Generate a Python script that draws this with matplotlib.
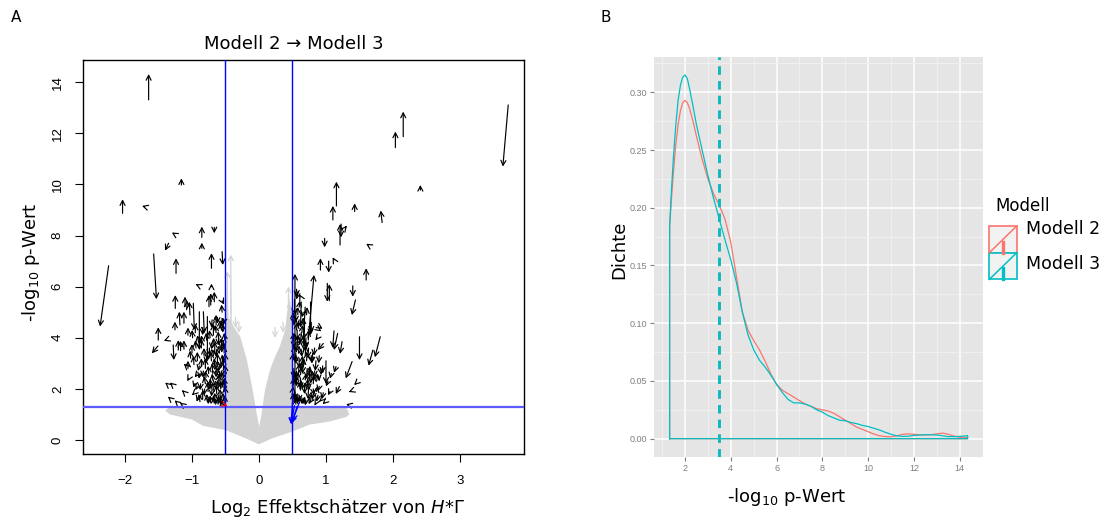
import numpy as np
import matplotlib
matplotlib.use("Agg")
import matplotlib.pyplot as plt
from matplotlib.patches import Rectangle

# ---------------- Panel A data: Modell 2 -> Modell 3 (x2, y2, x3, y3) ----------------
arrows_left = [
    (-1.647, 13.31, -1.647, 14.32), (-2.244, 6.82, -2.372, 4.44), (-2.036, 8.87, -2.036, 9.42),
    (-1.707, 9.13, -1.745, 9.16), (-1.158, 9.98, -1.158, 10.24), (-1.572, 7.28, -1.530, 5.51),
    (-1.503, 3.91, -1.503, 4.41), (-1.508, 3.68, -1.599, 3.39), (-1.349, 7.70, -1.402, 7.41),
    (-1.275, 8.08, -1.300, 8.12), (-1.238, 6.52, -1.238, 7.11), (-0.853, 7.93, -0.853, 8.35),
    (-0.667, 8.32, -0.667, 8.09), (-0.853, 7.50, -0.853, 7.72), (-0.709, 6.72, -0.709, 7.31),
    (-0.550, 7.37, -0.540, 6.85), (-0.922, 6.07, -0.945, 6.10), (-0.709, 6.00, -0.709, 6.12),
    (-0.667, 5.41, -0.667, 5.80), (-0.55, 5.45, -0.52, 5.30),
    (-1.249, 5.15, -1.249, 5.67), (-1.104, 5.22, -1.104, 5.61), (-1.08, 5.10, -1.07, 5.45),
    (-1.03, 4.89, -1.04, 5.41), (-1.18, 4.50, -1.19, 5.02), (-1.12, 4.57, -1.12, 5.02),
    (-0.98, 5.35, -0.965, 4.31), (-0.83, 5.02, -0.816, 4.17), (-0.746, 5.22, -0.746, 5.67),
    (-0.72, 5.28, -0.72, 5.74), (-0.89, 5.02, -0.89, 3.52), (-0.77, 4.83, -0.77, 3.13),
    (-1.254, 4.31, -1.254, 4.63), (-1.28, 3.72, -1.27, 3.13), (-1.204, 3.52, -1.204, 3.91),
    (-1.17, 3.50, -1.17, 3.88), (-1.12, 3.55, -1.12, 3.90), (-1.39, 3.91, -1.42, 3.88),
    (-1.06, 4.10, -1.06, 4.40), (-0.95, 4.20, -0.95, 4.55), (-0.90, 3.80, -0.92, 4.10),
    (-0.86, 3.60, -0.86, 3.95), (-0.84, 4.40, -0.84, 4.10), (-1.104, 2.94, -1.12, 2.98),
    (-0.93, 2.55, -0.96, 2.45), (-0.88, 2.60, -0.90, 2.40), (-1.378, 2.20, -1.40, 2.25),
    (-1.30, 2.18, -1.33, 2.25), (-1.13, 1.90, -1.15, 1.95), (-1.33, 1.63, -1.36, 1.70),
    (-1.23, 1.48, -1.26, 1.55), (-1.15, 1.40, -1.18, 1.46), (-1.06, 2.80, -1.06, 3.10),
    (-1.00, 3.40, -1.00, 3.75), (-0.97, 2.95, -0.98, 3.30), (-0.92, 3.10, -0.92, 3.45),
    (-0.80, 2.80, -0.80, 3.20), (-0.80, 2.20, -0.82, 2.50), (-0.76, 1.90, -0.76, 2.30),
    (-0.84, 1.60, -0.84, 1.95), (-0.88, 1.50, -0.90, 1.80), (-0.92, 2.10, -0.95, 1.95),
    (-0.98, 1.80, -1.00, 1.75), (-0.72, 1.45, -0.73, 1.75), (-0.69, 2.60, -0.70, 3.00),
    (-0.66, 3.40, -0.66, 3.85), (-0.68, 4.10, -0.68, 4.55), (-0.64, 4.50, -0.64, 4.90),
    (-0.62, 3.00, -0.62, 3.40), (-0.60, 2.20, -0.60, 2.60), (-0.58, 1.60, -0.58, 2.00),
    (-0.56, 3.60, -0.56, 4.00), (-0.54, 4.60, -0.54, 4.20), (-0.53, 2.80, -0.53, 3.20),
    (-0.52, 1.90, -0.52, 2.30), (-0.51, 1.40, -0.51, 1.75), (-0.55, 2.40, -0.55, 2.10),
    (-0.57, 3.10, -0.57, 2.80), (-0.60, 3.80, -0.61, 4.25), (-0.63, 1.80, -0.64, 2.15),
    (-0.65, 2.30, -0.66, 2.10), (-0.70, 2.00, -0.71, 1.70), (-0.74, 3.60, -0.74, 3.30),
    (-0.78, 3.90, -0.79, 4.20), (-0.61, 1.40, -0.62, 1.65), (-0.66, 1.50, -0.66, 1.85),
    (-0.55, 1.35, -0.56, 1.55), (-0.59, 2.90, -0.60, 2.70), (-0.53, 3.90, -0.53, 3.60),
    (-0.70, 4.70, -0.71, 4.40), (-0.58, 4.40, -0.58, 4.70), (-0.62, 4.80, -0.62, 4.55),
    (-0.82, 3.30, -0.82, 3.60), (-0.86, 2.90, -0.86, 3.20), (-0.50, 2.60, -0.51, 2.95),
    (-0.52, 3.40, -0.52, 3.70), (-0.75, 1.60, -0.76, 1.40), (-0.68, 3.30, -0.69, 3.55),
    (-0.64, 2.70, -0.64, 2.45),
    (-0.51, 2.10, -0.52, 2.45), (-0.52, 2.70, -0.53, 2.40), (-0.53, 1.55, -0.54, 1.85),
    (-0.54, 3.05, -0.55, 3.35), (-0.55, 3.80, -0.56, 3.50), (-0.56, 4.30, -0.57, 4.60),
    (-0.57, 1.45, -0.58, 1.70), (-0.58, 2.35, -0.59, 2.65), (-0.59, 3.40, -0.60, 3.70),
    (-0.60, 4.00, -0.61, 3.70), (-0.61, 2.00, -0.62, 2.30), (-0.62, 2.55, -0.63, 2.85),
    (-0.63, 3.55, -0.64, 3.25), (-0.64, 4.20, -0.65, 4.50), (-0.65, 1.60, -0.66, 1.40),
    (-0.66, 2.90, -0.67, 3.20), (-0.67, 3.70, -0.68, 4.00), (-0.68, 1.95, -0.69, 2.25),
    (-0.69, 2.35, -0.70, 2.60), (-0.71, 3.10, -0.72, 3.45), (-0.72, 2.10, -0.73, 2.40),
    (-0.73, 4.00, -0.74, 4.30), (-0.75, 2.60, -0.76, 2.90), (-0.77, 1.50, -0.78, 1.80),
    (-0.78, 3.30, -0.79, 3.00), (-0.81, 2.00, -0.82, 1.75), (-0.83, 2.70, -0.84, 2.45),
    (-0.85, 3.80, -0.86, 4.10), (-0.87, 2.20, -0.88, 1.95), (-0.89, 2.90, -0.91, 2.70),
    (-0.91, 1.65, -0.93, 1.50), (-0.94, 3.60, -0.95, 3.90), (-0.96, 2.20, -0.98, 2.05),
    (-0.99, 4.00, -1.00, 4.30), (-1.02, 3.20, -1.03, 3.50), (-1.05, 2.40, -1.07, 2.30),
    (-0.53, 4.40, -0.54, 4.80), (-0.55, 5.00, -0.56, 5.30), (-0.57, 2.00, -0.58, 2.30),
    (-0.50, 3.10, -0.51, 3.40), (-0.50, 1.80, -0.51, 2.10), (-0.51, 3.90, -0.52, 4.20),
    (-0.52, 4.70, -0.53, 4.50), (-0.56, 2.70, -0.57, 2.45), (-0.60, 1.75, -0.61, 1.50),
    (-0.64, 3.00, -0.65, 2.75), (-0.67, 1.45, -0.68, 1.70), (-0.70, 3.80, -0.71, 3.55),
    (-0.74, 2.20, -0.75, 1.95), (-0.79, 2.45, -0.80, 2.70),
]

arrows_right = [
    (3.72, 13.11, 3.64, 10.70), (2.153, 11.87, 2.153, 12.85), (2.036, 11.44, 2.036, 12.07),
    (2.409, 9.78, 2.409, 9.98), (1.156, 9.16, 1.156, 10.11), (1.103, 8.61, 1.103, 9.16),
    (1.428, 8.94, 1.428, 9.26), (1.838, 8.51, 1.817, 8.98), (1.210, 7.63, 1.210, 8.45),
    (1.225, 8.45, 1.225, 7.93), (1.295, 8.33, 1.31, 8.38), (0.980, 7.89, 0.980, 7.54),
    (1.630, 7.63, 1.60, 7.68), (1.600, 6.26, 1.600, 6.72), (0.917, 6.65, 0.917, 7.11),
    (1.04, 7.00, 1.04, 6.55), (1.12, 7.05, 1.10, 7.15), (1.02, 6.13, 1.02, 5.41),
    (1.05, 5.45, 1.05, 6.10), (1.40, 6.03, 1.40, 5.61), (1.44, 5.48, 1.386, 4.89),
    (1.50, 4.04, 1.50, 3.13), (1.81, 4.04, 1.73, 3.24), (1.70, 3.52, 1.636, 2.91),
    (1.174, 4.17, 1.12, 3.52), (1.24, 3.85, 1.21, 3.37), (1.39, 3.07, 1.295, 2.41),
    (1.15, 2.87, 1.12, 2.63), (1.20, 2.09, 1.146, 1.80), (1.44, 2.20, 1.42, 2.15),
    (1.36, 1.90, 1.34, 1.88), (1.33, 1.38, 1.30, 1.40), (0.905, 4.30, 0.93, 4.25),
    (0.96, 3.78, 0.88, 3.52),
    (0.537, 1.60, 0.537, 6.50), (0.736, 3.91, 0.821, 6.46), (0.77, 5.40, 0.77, 4.10),
    (0.69, 5.20, 0.66, 3.90), (0.58, 5.80, 0.56, 5.50), (0.62, 5.60, 0.60, 5.70),
    (0.66, 5.00, 0.64, 4.80), (0.55, 5.00, 0.55, 4.60), (0.60, 4.70, 0.58, 4.40),
    (0.57, 4.30, 0.57, 3.90), (0.52, 4.00, 0.52, 3.60), (0.63, 4.20, 0.62, 3.80),
    (0.70, 4.00, 0.70, 3.60), (0.74, 3.60, 0.73, 3.20), (0.80, 3.40, 0.79, 3.00),
    (0.85, 3.10, 0.84, 2.70), (0.55, 3.40, 0.55, 3.00), (0.60, 3.20, 0.60, 2.80),
    (0.66, 3.00, 0.65, 2.60), (0.72, 2.80, 0.71, 2.40), (0.78, 2.60, 0.77, 2.20),
    (0.52, 2.80, 0.52, 2.40), (0.56, 2.50, 0.56, 2.10), (0.62, 2.40, 0.62, 2.00),
    (0.68, 2.20, 0.68, 1.80), (0.74, 2.00, 0.73, 1.60), (0.82, 1.90, 0.80, 1.60),
    (0.88, 1.75, 0.86, 1.50), (0.53, 1.90, 0.53, 1.55), (0.58, 1.80, 0.58, 1.45),
    (0.64, 1.65, 0.64, 1.40), (0.70, 1.55, 0.69, 1.35), (0.76, 1.50, 0.74, 1.40),
    (0.92, 1.55, 0.90, 1.50), (0.54, 2.20, 0.55, 2.60), (0.59, 2.60, 0.60, 3.00),
    (0.64, 2.90, 0.65, 3.30), (0.69, 3.30, 0.70, 3.70), (0.57, 3.70, 0.58, 4.10),
    (0.52, 3.30, 0.53, 3.70), (0.62, 1.95, 0.63, 2.35), (0.75, 2.40, 0.76, 2.80),
    (0.81, 2.20, 0.82, 2.55), (0.86, 2.30, 0.88, 2.60), (0.90, 2.10, 0.88, 1.90),
    (0.96, 1.85, 0.94, 1.60), (1.00, 3.10, 1.00, 2.20), (1.03, 2.30, 1.00, 2.10),
    (1.06, 1.90, 1.03, 1.75), (1.12, 4.27, 1.10, 3.60), (0.92, 4.40, 0.95, 4.35),
    (0.87, 4.00, 0.84, 3.90), (0.78, 4.60, 0.78, 4.20), (0.83, 3.60, 0.82, 3.30),
    (0.66, 4.50, 0.66, 4.80), (0.60, 5.20, 0.61, 5.45), (0.71, 4.90, 0.72, 5.20),
    (0.51, 1.50, 0.51, 1.85), (0.55, 1.40, 0.55, 1.65), (0.95, 2.90, 0.95, 2.60),
    (0.90, 3.30, 0.89, 3.00), (1.08, 2.60, 1.06, 2.40), (0.97, 1.45, 0.95, 1.40),
    (0.84, 1.40, 0.83, 1.35),
    (0.51, 2.10, 0.52, 2.45), (0.52, 2.70, 0.53, 2.40), (0.53, 1.55, 0.54, 1.85),
    (0.54, 3.05, 0.55, 3.35), (0.55, 3.80, 0.56, 3.50), (0.56, 4.30, 0.57, 4.60),
    (0.57, 1.45, 0.58, 1.70), (0.58, 2.35, 0.59, 2.65), (0.59, 3.40, 0.60, 3.70),
    (0.60, 4.00, 0.61, 3.70), (0.61, 2.00, 0.62, 2.30), (0.62, 2.55, 0.63, 2.85),
    (0.63, 3.55, 0.64, 3.25), (0.64, 4.20, 0.65, 4.50), (0.65, 1.60, 0.66, 1.40),
    (0.66, 2.90, 0.67, 3.20), (0.67, 3.70, 0.68, 4.00), (0.68, 1.95, 0.69, 2.25),
    (0.69, 2.35, 0.70, 2.60), (0.71, 3.10, 0.72, 3.45), (0.72, 2.10, 0.73, 2.40),
    (0.73, 4.00, 0.74, 4.30), (0.75, 2.60, 0.76, 2.90), (0.77, 1.50, 0.78, 1.80),
    (0.78, 3.30, 0.79, 3.00), (0.81, 2.00, 0.82, 1.75), (0.83, 2.70, 0.84, 2.45),
    (0.53, 5.50, 0.53, 4.90), (0.56, 5.90, 0.57, 5.60), (0.51, 4.50, 0.51, 5.00),
    (0.50, 3.10, 0.51, 3.40), (0.50, 1.80, 0.51, 2.10), (0.51, 3.90, 0.52, 4.20),
    (0.52, 4.70, 0.53, 4.50), (0.56, 2.70, 0.57, 2.45), (0.60, 1.75, 0.61, 1.50),
    (0.64, 3.00, 0.65, 2.75), (0.67, 1.45, 0.68, 1.70), (0.70, 3.80, 0.71, 3.55),
    (0.74, 2.20, 0.75, 1.95), (0.79, 2.45, 0.80, 2.70), (0.63, 5.40, 0.62, 4.40),
    (0.68, 4.60, 0.67, 3.50), (0.58, 4.90, 0.58, 5.20), (0.86, 1.90, 0.87, 2.10),
    (0.89, 2.50, 0.90, 2.30), (0.92, 2.80, 0.93, 2.55),
]

arrows_blue = [
    (0.50, 1.45, 0.48, 0.62), (0.53, 1.35, 0.48, 0.62),
    (0.57, 1.32, 0.49, 0.65), (0.60, 1.45, 0.50, 0.75),
]
arrows_red = [(-0.50, 1.36, -0.47, 1.33)]

# non-significant arrows: outline of the grey cloud plus a few visible spikes
gray_x = [-1.40, -1.33, -0.50, -0.50, -0.47, -0.455, -0.43, -0.42, -0.405, -0.38, -0.28,
          -0.18, -0.085, -0.035, 0.005, 0.04, 0.09, 0.164, 0.24, 0.31, 0.39, 0.43, 0.44,
          0.46, 0.50, 0.50, 1.30, 1.35, 1.30, 1.05, 0.75, 0.50, 0.20, 0.0, -0.20, -0.50,
          -0.83, -1.00, -1.33]
gray_y = [1.15, 1.30, 1.30, 4.60, 6.50, 4.80, 4.70, 7.20, 4.60, 4.45, 4.05,
          3.13, 1.83, 1.04, 0.52, 1.04, 1.96, 2.74, 3.26, 3.65, 4.30, 5.20, 6.00,
          5.30, 5.10, 1.30, 1.30, 1.00, 0.90, 0.72, 0.60, 0.33, 0.07, -0.17, 0.07, 0.39,
          0.55, 0.80, 1.00]
arrows_gray = [
    (-0.42, 5.0, -0.42, 7.25), (-0.47, 5.5, -0.47, 6.6), (0.44, 4.6, 0.44, 6.0),
    (0.24, 4.4, 0.24, 4.0), (-0.30, 4.6, -0.30, 4.2), (0.46, 5.4, 0.46, 5.0),
    (-0.35, 4.8, -0.35, 4.4), (0.36, 4.6, 0.36, 4.2),
]

p_thresh = -np.log10(0.05)
fc_thresh = [-0.5, 0.5]

# ---------------- Panel B data: density of -log10 p ----------------
dens_x = [1.33, 1.4, 1.5, 1.6, 1.7, 1.8, 1.9, 2.0, 2.1, 2.2, 2.35, 2.5, 2.75, 3.0, 3.25,
          3.5, 3.75, 4.0, 4.25, 4.5, 4.75, 5.0, 5.25, 5.5, 5.75, 6.0, 6.25, 6.5, 6.75,
          7.0, 7.25, 7.5, 7.75, 8.0, 8.25, 8.5, 8.75, 9.0, 9.25, 9.5, 9.75, 10.0, 10.25,
          10.5, 10.75, 11.0, 11.25, 11.5, 11.75, 12.0, 12.25, 12.5, 12.75, 13.0, 13.25,
          13.5, 13.75, 14.0, 14.34]
dens_m2 = [0.184, 0.205, 0.232, 0.255, 0.272, 0.284, 0.291, 0.293, 0.291, 0.286, 0.275,
           0.262, 0.242, 0.225, 0.212, 0.202, 0.190, 0.170, 0.140, 0.110, 0.094, 0.085,
           0.077, 0.067, 0.056, 0.047, 0.042, 0.039, 0.036, 0.033, 0.030, 0.028, 0.026,
           0.025, 0.024, 0.022, 0.019, 0.016, 0.013, 0.010, 0.008, 0.006, 0.004, 0.0025,
           0.0018, 0.0017, 0.0025, 0.0038, 0.0042, 0.0038, 0.0033, 0.0033, 0.0035, 0.0042,
           0.0048, 0.0038, 0.0022, 0.0012, 0.0010]
dens_m3 = [0.184, 0.212, 0.245, 0.272, 0.293, 0.306, 0.313, 0.315, 0.312, 0.303, 0.288,
           0.272, 0.250, 0.228, 0.208, 0.190, 0.172, 0.155, 0.135, 0.110, 0.090, 0.077,
           0.068, 0.062, 0.055, 0.047, 0.040, 0.034, 0.031, 0.031, 0.030, 0.028, 0.025,
           0.023, 0.020, 0.018, 0.016, 0.0155, 0.014, 0.013, 0.0115, 0.0105, 0.009, 0.0075,
           0.0055, 0.0038, 0.0025, 0.002, 0.0022, 0.0028, 0.0032, 0.0034, 0.0034, 0.0032,
           0.0025, 0.0018, 0.0018, 0.0020, 0.0026]
mean_m2 = 3.48
mean_m3 = 3.50
col_m2 = "#F8766D"
col_m3 = "#00BFC4"

W, H = 1106, 522
fig = plt.figure(figsize=(W / 100, H / 100), dpi=100)


def px_axes(left, top, right, bottom):
    return [left / W, 1 - bottom / H, (right - left) / W, (bottom - top) / H]


# ======================= Panel A =======================
ax = fig.add_axes(px_axes(83.3, 60, 524.3, 454))
ax.fill(gray_x, gray_y, color="#D3D3D3", lw=0, zorder=1)


def draw_arrows(a, rows, color, lw=0.85, z=2):
    for x2, y2, x3, y3 in rows:
        a.annotate("", xy=(x3, y3), xytext=(x2, y2), zorder=z,
                   arrowprops=dict(arrowstyle="->,head_length=0.35,head_width=0.18",
                                   color=color, lw=lw, shrinkA=0, shrinkB=0,
                                   mutation_scale=10))


draw_arrows(ax, arrows_gray, "#D3D3D3", z=1.5)
draw_arrows(ax, arrows_left, "black")
draw_arrows(ax, arrows_right, "black")
ax.axhline(p_thresh, color="#5a5aff", lw=1.6, zorder=3)
for v in fc_thresh:
    ax.axvline(v, color="#0000ff", lw=1.0, zorder=3)
draw_arrows(ax, arrows_blue, "#0000ff", lw=0.9, z=4)
draw_arrows(ax, arrows_red, "red", lw=0.8, z=4)

ax.set_xlim(-2.622, 3.96)
ax.set_ylim(-0.548, 14.87)
ax.set_xticks([-2, -1, 0, 1, 2, 3])
ax.set_yticks(range(0, 15, 2))
ax.tick_params(direction="out", length=6, width=0.8, labelsize=9.5, pad=9)
ax.tick_params(axis="y", labelrotation=90, pad=8)
for lab in ax.get_yticklabels():
    lab.set_va("center")
for lab in ax.get_xticklabels() + ax.get_yticklabels():
    lab.set_family("Liberation Sans")
for s in ax.spines.values():
    s.set_linewidth(1.0)

# ======================= Panel B =======================
bx = fig.add_axes(px_axes(654, 57.3, 982.7, 456.7))
bx.set_facecolor("#E5E5E5")
for s in bx.spines.values():
    s.set_visible(False)
bx.set_xlim(0.647, 14.99)
bx.set_ylim(-0.0156, 0.3303)
bx.set_xticks(range(2, 15, 2))
bx.set_xticks(np.arange(1, 16, 2), minor=True)
bx.set_yticks(np.arange(0, 0.31, 0.05))
bx.set_yticks(np.arange(0.025, 0.33, 0.05), minor=True)
bx.set_yticklabels(["0.00", "0.05", "0.10", "0.15", "0.20", "0.25", "0.30"])
bx.grid(which="major", color="white", lw=1.1)
bx.grid(which="minor", color="#F2F2F2", lw=0.6)
bx.set_axisbelow(True)
bx.tick_params(which="major", direction="out", length=3, width=0.8, color="#7F7F7F",
               labelcolor="#7F7F7F", labelsize=6.5, pad=2)
bx.tick_params(which="minor", length=0)
for lab in bx.get_xticklabels() + bx.get_yticklabels():
    lab.set_family("Liberation Sans")

for y, c in [(dens_m2, col_m2), (dens_m3, col_m3)]:
    xs = [dens_x[0]] + dens_x + [dens_x[-1], dens_x[0]]
    ys = [0] + y + [0, 0]
    bx.plot(xs, ys, color=c, lw=0.9, zorder=3)
bx.axvline(mean_m2, color=col_m2, lw=2.0, dashes=(3, 2.3), zorder=4)
bx.axvline(mean_m3, color=col_m3, lw=2.0, dashes=(3, 2.3), zorder=4)

# ======================= overlay (texts, legend) =======================
ov = fig.add_axes([0, 0, 1, 1], zorder=10)
ov.set_xlim(0, W)
ov.set_ylim(H, 0)
ov.axis("off")
ov.patch.set_visible(False)

ov.text(16, 17, "A", fontsize=11, ha="center", va="center")
ov.text(606, 17, "B", fontsize=11, ha="center", va="center")
ov.text(294, 44, "Modell 2 \u2192 Modell 3", fontsize=13, ha="center", va="center")
ov.text(31, 262, r"-log$_{10}$ p-Wert", fontsize=13, rotation=90, ha="center", va="center")
ov.text(338, 508, r"Log$_2$ Effektschätzer von $\mathit{H}$*$\mathit{\Gamma}$",
        fontsize=13, ha="center", va="center")

ov.text(619, 250, "Dichte", fontsize=13, rotation=90, ha="center", va="center")
ov.text(787, 497, r"-log$_{10}$ p-Wert", fontsize=13, ha="center", va="center")

# legend
ov.text(995, 206, "Modell", fontsize=12, ha="left", va="center")
for (top, c, lab, ty) in [(226, col_m2, "Modell 2", 229), (252.7, col_m3, "Modell 3", 264)]:
    ov.add_patch(Rectangle((989.3, top), 27.4, 26.7, facecolor="#F2F2F2",
                           edgecolor=c, lw=1.2))
    ov.plot([989.3, 1016.7], [top + 26.7, top], color=c, lw=1.1)
    ov.plot([1003.3, 1003.3], [top + 15.5, top + 26.7], color=c, lw=2.4)
    ov.text(1025.7, ty, lab, fontsize=12.5, ha="left", va="center")

fig.savefig("out.png", dpi=100)
